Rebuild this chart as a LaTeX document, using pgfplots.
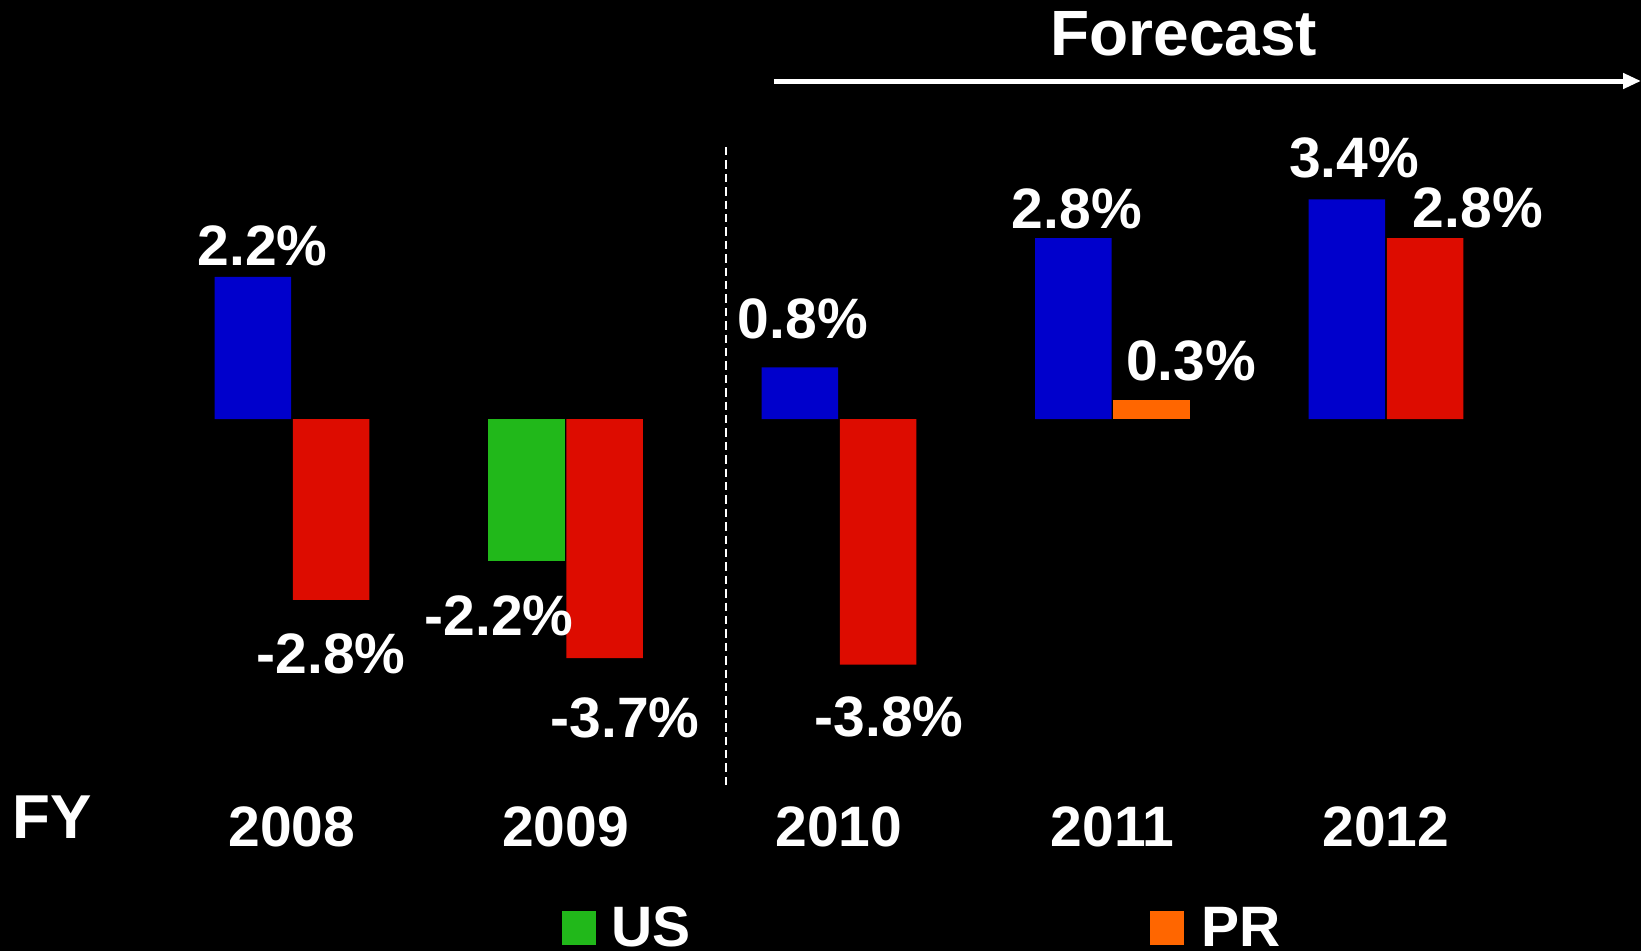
\documentclass[border=0pt]{standalone}
\usepackage{pgfplots}
\pgfplotsset{compat=1.18}
\usepackage{fontspec}
\setmainfont{Liberation Sans}
\usetikzlibrary{arrows.meta}
\definecolor{usblue}{RGB}{0,0,204}
\definecolor{usgreen}{RGB}{33,184,26}
\definecolor{prred}{RGB}{221,12,0}
\definecolor{prorange}{RGB}{255,102,0}
\tikzset{lbl/.style={text=white, font=\fontsize{28.5}{30}\selectfont\bfseries, inner sep=0pt}}
\begin{document}
\begin{tikzpicture}
\begin{axis}[
  scale only axis, width=820.5pt, height=475.5pt,
  xmin=-1.0676, xmax=4.9324, ymin=-8.235, ymax=6.486,
  axis background/.style={fill=black},
  axis line style={draw=none},
  major tick length=0pt,
  ytick=\empty,
  xtick={0,1,2,3,4}, xticklabels={2008,2009,2010,2011,2012},
  /pgf/number format/assume math mode=true,
  xticklabel style={anchor=center, yshift=62pt, text=white, font=\fontsize{28.5}{30}\selectfont\bfseries},
  clip=false,
  bar width=0.280,
  legend columns=2,
  legend style={at={(axis cs:0.987,-7.88)}, anchor=west, draw=none, fill=none, text=white,
    font=\fontsize{28.5}{30}\selectfont\bfseries, inner sep=0pt, outer sep=0pt,
    nodes={inner sep=0pt}, /tikz/column sep=0pt},
]
\coordinate (BL) at (rel axis cs:0,0);
\coordinate (TR) at (rel axis cs:1,1);
% US bars
\addplot[ybar, bar shift=-0.143, fill=usblue, draw=none, forget plot]
  coordinates {(0,2.2) (2,0.8) (3,2.8) (4,3.4)};
\addplot[ybar, bar shift=-0.143, fill=usgreen, draw=none,
  legend image code/.code={\fill[usgreen] (0pt,-8.7pt) rectangle (17pt,8.7pt); \path (24.9pt,0pt);}]
  coordinates {(1,-2.2)};
\addlegendentry{US\hspace*{229.3pt}}
% PR bars
\addplot[ybar, bar shift=0.143, fill=prred, draw=none, forget plot]
  coordinates {(0,-2.8) (1,-3.7) (2,-3.8) (4,2.8)};
\addplot[ybar, bar shift=0.143, fill=prorange, draw=none,
  legend image code/.code={\fill[prorange] (0pt,-8.7pt) rectangle (17pt,8.7pt); \path (26pt,0pt);}]
  coordinates {(3,0.3)};
\addlegendentry{PR}
% value labels
\node[lbl] at (axis cs:-0.108,2.686) {2.2\%};
\node[lbl] at (axis cs:0.143,-3.638) {-2.8\%};
\node[lbl] at (axis cs:0.757,-3.05) {-2.2\%};
\node[lbl] at (axis cs:1.218,-4.63) {-3.7\%};
\node[lbl] at (axis cs:1.868,1.548) {0.8\%};
\node[lbl] at (axis cs:2.183,-4.613) {-3.8\%};
\node[lbl] at (axis cs:2.870,3.251) {2.8\%};
\node[lbl] at (axis cs:3.287,0.898) {0.3\%};
\node[lbl] at (axis cs:3.883,4.04) {3.4\%};
\node[lbl] at (axis cs:4.336,3.266) {2.8\%};
% FY
\node[text=white, font=\fontsize{31}{33}\selectfont\bfseries, inner sep=0pt] at (axis cs:-0.8775,-6.169) {FY};
% forecast divider and arrow
\draw[white, line width=1pt, dash pattern=on 4.2pt off 2.5pt] (axis cs:1.587,4.21) -- (axis cs:1.587,-5.666);
\draw[white, line width=2.5pt, -{Triangle[length=9pt, width=7.5pt]}] (axis cs:1.762,5.232) -- (axis cs:4.9324,5.232);
\node[text=white, font=\fontsize{32}{34}\selectfont\bfseries, inner sep=0pt] at (axis cs:3.261,5.967) {Forecast};
\end{axis}
\pgfresetboundingbox
\useasboundingbox (BL) rectangle (TR);
\end{tikzpicture}
\end{document}
